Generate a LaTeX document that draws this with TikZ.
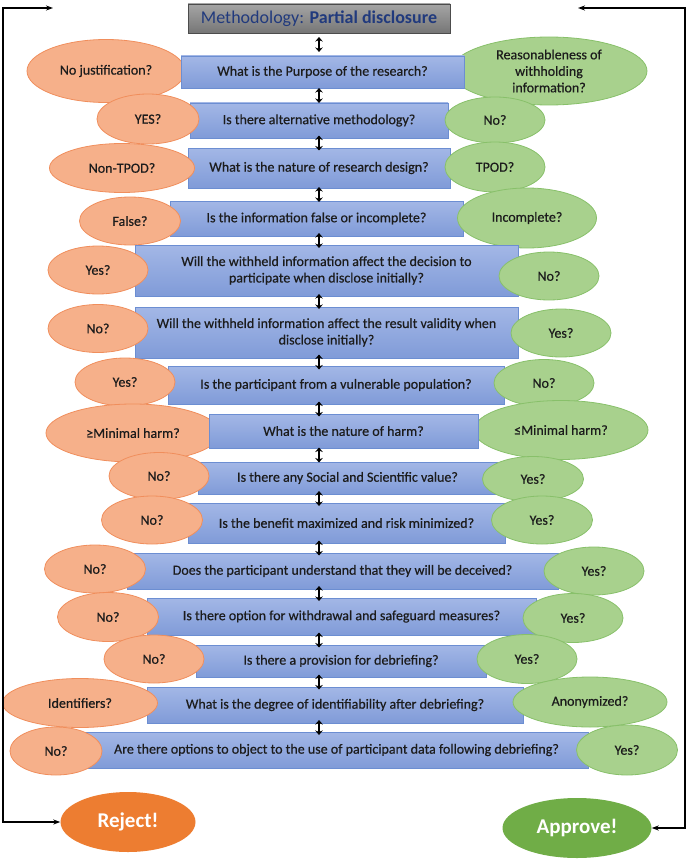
\documentclass[tikz,border=0pt]{standalone}
\usepackage{fontspec}
\setmainfont{Carlito}
\newfontfamily\bodyfont{Carlito}[FakeBold=0.5]
\usepackage{tikz}
\usepackage{xcolor}
\usetikzlibrary{shapes.geometric, arrows.meta, calc}
\definecolor{Box-A}{RGB}{163, 183, 230}
\definecolor{Box-B}{RGB}{128, 155, 216}
\definecolor{Box-Line}{RGB}{108, 142, 210}
\definecolor{No-Fill}{RGB}{246, 176, 138}
\definecolor{No-Line}{RGB}{240, 142, 92}
\definecolor{Yes-Fill}{RGB}{168, 209, 141}
\definecolor{Yes-Line}{RGB}{136, 192, 106}
\definecolor{Reject-Fill}{RGB}{237, 125, 49}
\definecolor{Approve-Fill}{RGB}{112, 173, 71}
\definecolor{Title-A}{RGB}{165, 165, 165}
\definecolor{Title-B}{RGB}{118, 118, 118}
\definecolor{Title-Text}{RGB}{33, 58, 125}
\definecolor{Ink}{RGB}{28, 28, 28}

\begin{document}
\begin{tikzpicture}[x=1pt, y=-1pt, font=\bodyfont\fontsize{14}{16.5}\selectfont, text=Ink,
    boxsize/.style 2 args={minimum width=#1pt, minimum height=#2pt},
    question/.style={rectangle, draw=Box-Line, top color=Box-A, bottom color=Box-B, inner sep=0pt, align=center},
    nobubble/.style={ellipse, draw=No-Line, line width=0.8pt, fill=No-Fill, inner sep=0pt, align=center},
    yesbubble/.style={ellipse, draw=Yes-Line, line width=0.8pt, fill=Yes-Fill, inner sep=0pt, align=center},
    verdict/.style={ellipse, inner sep=0pt, text=white, font=\rmfamily\fontsize{21}{25}\selectfont\bfseries},
    updown/.style={{Stealth[length=4.5pt,width=7.5pt]}-{Stealth[length=4.5pt,width=7.5pt]}, line width=2.4pt, black},
    railarrow/.style={{Stealth[length=7pt,width=5pt]}-{Stealth[length=7pt,width=5pt]}, line width=1.4pt, black}]

    \useasboundingbox (0,0) rectangle (690,864);

    % title
    \node[rectangle, draw=black!70, top color=Title-A, bottom color=Title-B, boxsize={262}{29}, inner sep=0pt,
	text=Title-Text, font=\rmfamily\fontsize{18}{21}\selectfont] (title) at (319,18.5) {Methodology: \textbf{Partial disclosure}};

    % row 1 (bubbles behind the box)
    \node[nobubble, boxsize={158}{63}] (no1) at (106,71) {No justification?};
    \node[yesbubble, boxsize={196}{68}] (yes1) at (549,71) {Reasonableness of\\withholding\\information?};
    \node[question, boxsize={283}{32}] (q1) at (322.5,72) {What is the Purpose of the research?};

    % row 2
    \node[question, boxsize={258}{35}] (q2) at (319,120.5) {Is there alternative methodology?};
    \node[nobubble, boxsize={102}{50}] (no2) at (148,119) {YES?};
    \node[yesbubble, boxsize={100}{46}] (yes2) at (495,120) {No?};

    % row 3
    \node[question, boxsize={262}{40}] (q3) at (319,168) {What is the nature of research design?};
    \node[nobubble, boxsize={145}{49}] (no3) at (122,168) {Non-TPOD?};
    \node[yesbubble, boxsize={100}{50}] (yes3) at (495,167) {TPOD?};

    % row 4
    \node[question, boxsize={293}{35}] (q4) at (316.5,218.5) {Is the information false or incomplete?};
    \node[nobubble, boxsize={101}{48}] (no4) at (130,221) {False?};
    \node[yesbubble, boxsize={139}{60}] (yes4) at (527,218) {Incomplete?};

    % row 5
    \node[question, boxsize={383}{51}] (q5) at (326.5,270.5) {Will the withheld information affect the decision to\\participate when disclose initially?};
    \node[nobubble, boxsize={100}{48}] (no5) at (98,270) {Yes?};
    \node[yesbubble, boxsize={100}{48}] (yes5) at (549,276) {No?};

    % row 6
    \node[question, boxsize={383}{51}] (q6) at (326.5,332.5) {Will the withheld information affect the result validity when\\disclose initially?};
    \node[nobubble, boxsize={100}{48}] (no6) at (98,328.5) {No?};
    \node[yesbubble, boxsize={100}{48}] (yes6) at (561,333) {Yes?};

    % row 7
    \node[question, boxsize={336}{38}] (q7) at (336,385) {Is the participant from a vulnerable population?};
    \node[nobubble, boxsize={100}{48}] (no7) at (125,382) {Yes?};
    \node[yesbubble, boxsize={100}{47}] (yes7) at (544,383) {No?};

    % row 8 (bubbles behind the box)
    \node[nobubble, boxsize={174}{58}] (no8) at (133,433) {≥Minimal harm?};
    \node[yesbubble, boxsize={174}{59}] (yes8) at (561,430) {≤Minimal harm?};
    \node[question, boxsize={269}{34}] (q8) at (343.5,431) {What is the nature of harm?};

    % row 9
    \node[question, boxsize={299}{32}] (q9) at (347.5,478) {Is there any Social and Scientific value?};
    \node[nobubble, boxsize={100}{47}] (no9) at (159,476) {No?};
    \node[yesbubble, boxsize={101}{45}] (yes9) at (533,479) {Yes?};

    % row 10
    \node[question, boxsize={317}{40}] (q10) at (346.5,523) {Is the benefit maximized and risk minimized?};
    \node[nobubble, boxsize={101}{48}] (no10) at (152,520) {No?};
    \node[yesbubble, boxsize={101}{48}] (yes10) at (542,520) {Yes?};

    % row 11
    \node[question, boxsize={431}{36}] (q11) at (342.5,571) {Does the participant understand that they will be deceived?};
    \node[nobubble, boxsize={101}{48}] (no11) at (95,569) {No?};
    \node[yesbubble, boxsize={100}{48}] (yes11) at (594,571) {Yes?};

    % row 12
    \node[question, boxsize={389}{37}] (q12) at (341.5,616.5) {Is there option for withdrawal and safeguard measures?};
    \node[nobubble, boxsize={101}{49}] (no12) at (108,617) {No?};
    \node[yesbubble, boxsize={100}{49}] (yes12) at (573,618) {Yes?};

    % row 13
    \node[question, boxsize={290}{32}] (q13) at (341,661) {Is there a provision for debriefing?};
    \node[nobubble, boxsize={100}{48}] (no13) at (154,659) {No?};
    \node[yesbubble, boxsize={100}{49}] (yes13) at (527,659) {Yes?};

    % row 14
    \node[question, boxsize={376}{36}] (q14) at (335,705) {What is the degree of identifiability after debriefing?};
    \node[nobubble, boxsize={155}{49}] (no14) at (80,703) {Identifiers?};
    \node[yesbubble, boxsize={154}{50}] (yes14) at (590,702) {Anonymized?};

    % row 15
    \node[question, boxsize={503}{36}] (q15) at (336.5,750) {Are there options to object to the use of participant data following debriefing?};
    \node[nobubble, boxsize={92}{48}] (no15) at (56,751) {No?};
    \node[yesbubble, boxsize={101}{50}] (yes15) at (627,750) {Yes?};

    % outcomes
    \node[verdict, fill=Reject-Fill, boxsize={135}{60}] (reject) at (128,822) {Reject!};
    \node[verdict, fill=Approve-Fill, boxsize={149}{60}] (approve) at (577,828) {Approve!};

    % links between the questions
    \foreach \a/\b in {title/q1, q1/q2, q2/q3, q3/q4, q4/q5, q5/q6, q6/q7, q7/q8, q8/q9, q9/q10, q10/q11, q11/q12, q12/q13, q13/q14, q14/q15}
	\draw[updown] ($(\a.south -| title.south)!.5!(\b.north -| title.south) + (0,-7.5)$) -- ($(\a.south -| title.south)!.5!(\b.north -| title.south) + (0,7.5)$);

    % side rails
    \coordinate (lefttip) at (53,8);
    \coordinate (leftrail) at (3,400);
    \coordinate (righttip) at (578,8);
    \coordinate (rightrail) at (685,400);
    \draw[railarrow] (lefttip) -| (leftrail) |- (reject.west);
    \draw[railarrow] (righttip) -| (rightrail) |- (approve.east);

\end{tikzpicture}
\end{document}
